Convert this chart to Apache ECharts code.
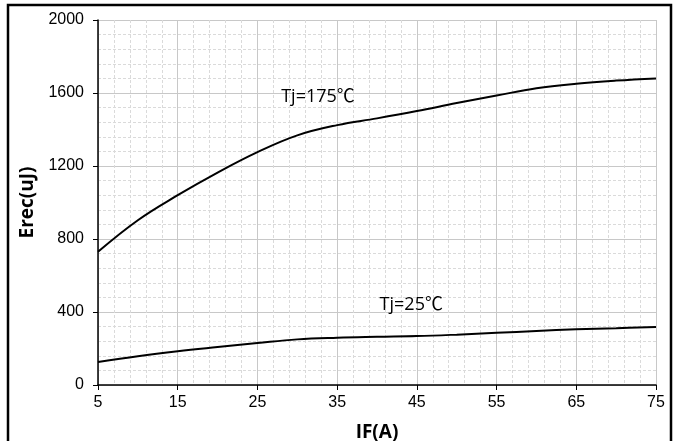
<!DOCTYPE html>
<html><head><meta charset="utf-8">
<script src="https://cdn.jsdelivr.net/npm/echarts@6/dist/echarts.min.js"></script>
<style>html,body{margin:0;padding:0;background:#fff;overflow:hidden}#c{width:682px;height:441px}</style>
</head><body><div id="c"></div>
<script>
const ifA = [5, 10, 15, 20, 25, 30, 35, 40, 45, 50, 55, 60, 65, 70, 75];
const erec175 = [730, 903, 1040, 1164, 1276, 1368, 1424, 1461, 1501, 1545, 1586, 1626, 1651, 1668, 1680];
const erec25 = [126, 158, 185, 208, 230, 250, 259, 264, 268, 276, 286, 296, 305, 311, 318];
const yTicks = [0, 400, 800, 1200, 1600, 2000];
const labels = [{text: 'Tj=175', x: 32.6, y: 1578}, {text: 'Tj=25', x: 44.3, y: 438}];

const chart = echarts.init(document.getElementById('c'), null, {renderer: 'canvas'});
const pair = (xs, ys) => xs.map((x, i) => [x, ys[i]]);
const labelPoint = l => ({coord: [l.x, l.y], symbol: 'rect', symbolSize: [1, 1], itemStyle: {color: 'rgba(0,0,0,0)'},
  label: {show: true, formatter: '{t|' + l.text + '}{u|℃}', position: 'inside',
    rich: {
      t: {fontSize: 18, color: '#000', fontFamily: 'Open Sans, DejaVu Sans, sans-serif', verticalAlign: 'middle', lineHeight: 22},
      u: {fontSize: 18, color: '#000', fontFamily: 'Noto Sans CJK SC, DejaVu Sans, sans-serif', verticalAlign: 'middle', lineHeight: 22, padding: [0, 0, 4, 0]}
    }}});
chart.setOption({
  animation: false,
  grid: {left: 98, right: 26, top: 20, bottom: 56, outerBoundsMode: 'none', containLabel: false},
  graphic: [{type: 'rect', shape: {x: 8, y: 5, width: 663, height: 460}, style: {fill: 'none', stroke: '#000', lineWidth: 2.5}, silent: true}],
  xAxis: {
    type: 'value', min: 5, max: 75, interval: 10,
    name: 'IF(A)', nameLocation: 'middle', nameGap: 38,
    nameTextStyle: {fontSize: 19, fontWeight: 'bold', color: '#000', fontFamily: 'Open Sans, sans-serif'},
    axisLine: {show: true, lineStyle: {color: '#000', width: 1.5}},
    axisTick: {show: true, length: 5, lineStyle: {color: '#000'}},
    axisLabel: {fontSize: 16, color: '#000', margin: 10, fontFamily: 'Liberation Sans, Arial, sans-serif'},
    splitLine: {show: true, lineStyle: {color: '#c8c8c8', width: 1}},
    minorTick: {show: false, splitNumber: 5},
    minorSplitLine: {show: true, lineStyle: {color: '#dadada', type: [3, 2], width: 1}}
  },
  yAxis: {
    type: 'value', min: 0, max: 2000, interval: 400,
    name: 'Erec(uJ)', nameLocation: 'middle', nameGap: 58,
    nameTextStyle: {fontSize: 19, fontWeight: 'bold', color: '#000', fontFamily: 'Open Sans, sans-serif'},
    axisLine: {show: true, lineStyle: {color: '#000', width: 1.5}},
    axisTick: {show: true, length: 5, lineStyle: {color: '#000'}},
    axisLabel: {fontSize: 16, color: '#000', margin: 14, fontFamily: 'Liberation Sans, Arial, sans-serif',
      formatter: v => yTicks.includes(v) ? String(v) : ''},
    splitLine: {show: true, lineStyle: {color: '#c8c8c8', width: 1}},
    minorTick: {show: false, splitNumber: 5},
    minorSplitLine: {show: true, lineStyle: {color: '#dadada', type: [3, 2], width: 1}}
  },
  series: [
    {type: 'line', data: pair(ifA, erec175), smooth: 0.4, symbol: 'none', lineStyle: {color: '#000', width: 2},
     markPoint: {silent: true, data: [labelPoint(labels[0])]}},
    {type: 'line', data: pair(ifA, erec25), smooth: 0.4, symbol: 'none', lineStyle: {color: '#000', width: 2},
     markPoint: {silent: true, data: [labelPoint(labels[1])]}}
  ]
});
</script></body></html>
